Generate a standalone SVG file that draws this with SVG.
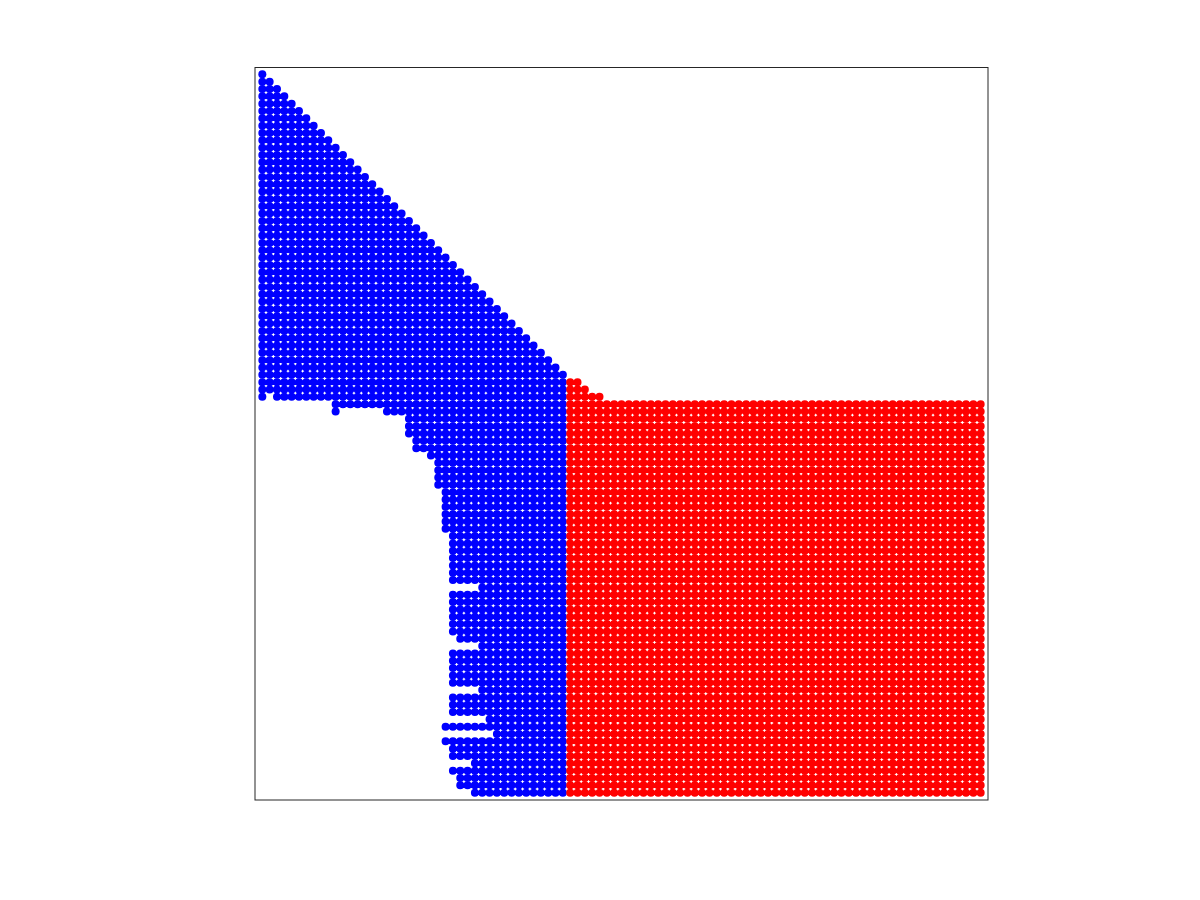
<svg xmlns="http://www.w3.org/2000/svg" width="1200" height="900" viewBox="0 0 1200 900">
<style>
.b{fill:none;stroke:#0000ff;stroke-width:8;stroke-linecap:round;stroke-dasharray:0 7.33}
.r{fill:none;stroke:#ff0000;stroke-width:8;stroke-linecap:round;stroke-dasharray:0 7.33}
.bc{fill:#0000ff}
</style>
<rect width="1200" height="900" fill="#ffffff"/>
<g id="blue-points">
<circle class="bc" cx="262.33" cy="74.33" r="4"/>
<g class="b">
<path d="M262.33 81.66H269.76"/>
<path d="M262.33 88.99H277.09"/>
<path d="M262.33 96.32H284.42"/>
<path d="M262.33 103.65H291.75"/>
<path d="M262.33 110.98H299.08"/>
<path d="M262.33 118.31H306.41"/>
<path d="M262.33 125.64H313.74"/>
<path d="M262.33 132.97H321.07"/>
<path d="M262.33 140.3H328.4"/>
<path d="M262.33 147.63H335.73"/>
<path d="M262.33 154.96H343.06"/>
<path d="M262.33 162.29H350.39"/>
<path d="M262.33 169.62H357.72"/>
<path d="M262.33 176.95H365.05"/>
<path d="M262.33 184.28H372.38"/>
<path d="M262.33 191.61H379.71"/>
<path d="M262.33 198.94H387.04"/>
<path d="M262.33 206.27H394.37"/>
<path d="M262.33 213.6H401.7"/>
<path d="M262.33 220.93H409.03"/>
<path d="M262.33 228.26H416.36"/>
<path d="M262.33 235.59H423.69"/>
<path d="M262.33 242.92H431.02"/>
<path d="M262.33 250.25H438.35"/>
<path d="M262.33 257.58H445.68"/>
<path d="M262.33 264.91H453.01"/>
<path d="M262.33 272.24H460.34"/>
<path d="M262.33 279.57H467.67"/>
<path d="M262.33 286.9H475"/>
<path d="M262.33 294.23H482.33"/>
<path d="M262.33 301.56H489.66"/>
<path d="M262.33 308.89H496.99"/>
<path d="M262.33 316.22H504.32"/>
<path d="M262.33 323.55H511.65"/>
<path d="M262.33 330.88H518.98"/>
<path d="M262.33 338.21H526.31"/>
<path d="M262.33 345.54H533.64"/>
<path d="M262.33 352.87H540.97"/>
<path d="M262.33 360.2H548.3"/>
<path d="M262.33 367.53H555.63"/>
<path d="M262.33 374.86H562.96"/>
<path d="M262.33 382.19H562.96"/>
<path d="M262.33 389.52H562.96"/>
<path d="M276.99 396.85H562.96"/>
<path d="M335.63 404.18H562.96"/>
<path d="M386.94 411.51H562.96"/>
<path d="M408.93 418.84H562.96"/>
<path d="M408.93 426.17H562.96"/>
<path d="M408.93 433.5H562.96"/>
<path d="M416.26 440.83H562.96"/>
<path d="M416.26 448.16H562.96"/>
<path d="M430.92 455.49H562.96"/>
<path d="M438.25 462.82H562.96"/>
<path d="M438.25 470.15H562.96"/>
<path d="M438.25 477.48H562.96"/>
<path d="M438.25 484.81H562.96"/>
<path d="M445.58 492.14H562.96"/>
<path d="M445.58 499.47H562.96"/>
<path d="M445.58 506.8H562.96"/>
<path d="M445.58 514.13H562.96"/>
<path d="M445.58 521.46H562.96"/>
<path d="M445.58 528.79H562.96"/>
<path d="M452.91 536.12H562.96"/>
<path d="M452.91 543.45H562.96"/>
<path d="M452.91 550.78H562.96"/>
<path d="M452.91 558.11H562.96"/>
<path d="M452.91 565.44H562.96"/>
<path d="M452.91 572.77H562.96"/>
<path d="M452.91 580.1H562.96"/>
<path d="M482.23 587.43H562.96"/>
<path d="M452.91 594.76H562.96"/>
<path d="M452.91 602.09H562.96"/>
<path d="M452.91 609.42H562.96"/>
<path d="M452.91 616.75H562.96"/>
<path d="M452.91 624.08H562.96"/>
<path d="M452.91 631.41H562.96"/>
<path d="M460.24 638.74H562.96"/>
<path d="M482.23 646.07H562.96"/>
<path d="M452.91 653.4H562.96"/>
<path d="M452.91 660.73H562.96"/>
<path d="M452.91 668.06H562.96"/>
<path d="M452.91 675.39H562.96"/>
<path d="M452.91 682.72H562.96"/>
<path d="M482.23 690.05H562.96"/>
<path d="M452.91 697.38H562.96"/>
<path d="M452.91 704.71H562.96"/>
<path d="M452.91 712.04H562.96"/>
<path d="M489.56 719.37H562.96"/>
<path d="M445.58 726.7H562.96"/>
<path d="M496.89 734.03H562.96"/>
<path d="M445.58 741.36H562.96"/>
<path d="M452.91 748.69H562.96"/>
<path d="M452.91 756.02H562.96"/>
<path d="M474.9 763.35H562.96"/>
<path d="M452.91 770.68H562.96"/>
<path d="M460.24 778.01H562.96"/>
<path d="M460.24 785.34H562.96"/>
<path d="M474.9 792.67H562.96"/>
</g>
<circle class="bc" cx="262.33" cy="396.85" r="4"/>
<circle class="bc" cx="335.63" cy="411.51" r="4"/>
</g>
<g id="red-points" class="r">
<path d="M570.19 382.19H577.62"/>
<path d="M570.19 389.52H584.95"/>
<path d="M570.19 396.85H599.61"/>
<path d="M570.19 404.18H980.77"/>
<path d="M570.19 411.51H980.77"/>
<path d="M570.19 418.84H980.77"/>
<path d="M570.19 426.17H980.77"/>
<path d="M570.19 433.5H980.77"/>
<path d="M570.19 440.83H980.77"/>
<path d="M570.19 448.16H980.77"/>
<path d="M570.19 455.49H980.77"/>
<path d="M570.19 462.82H980.77"/>
<path d="M570.19 470.15H980.77"/>
<path d="M570.19 477.48H980.77"/>
<path d="M570.19 484.81H980.77"/>
<path d="M570.19 492.14H980.77"/>
<path d="M570.19 499.47H980.77"/>
<path d="M570.19 506.8H980.77"/>
<path d="M570.19 514.13H980.77"/>
<path d="M570.19 521.46H980.77"/>
<path d="M570.19 528.79H980.77"/>
<path d="M570.19 536.12H980.77"/>
<path d="M570.19 543.45H980.77"/>
<path d="M570.19 550.78H980.77"/>
<path d="M570.19 558.11H980.77"/>
<path d="M570.19 565.44H980.77"/>
<path d="M570.19 572.77H980.77"/>
<path d="M570.19 580.1H980.77"/>
<path d="M570.19 587.43H980.77"/>
<path d="M570.19 594.76H980.77"/>
<path d="M570.19 602.09H980.77"/>
<path d="M570.19 609.42H980.77"/>
<path d="M570.19 616.75H980.77"/>
<path d="M570.19 624.08H980.77"/>
<path d="M570.19 631.41H980.77"/>
<path d="M570.19 638.74H980.77"/>
<path d="M570.19 646.07H980.77"/>
<path d="M570.19 653.4H980.77"/>
<path d="M570.19 660.73H980.77"/>
<path d="M570.19 668.06H980.77"/>
<path d="M570.19 675.39H980.77"/>
<path d="M570.19 682.72H980.77"/>
<path d="M570.19 690.05H980.77"/>
<path d="M570.19 697.38H980.77"/>
<path d="M570.19 704.71H980.77"/>
<path d="M570.19 712.04H980.77"/>
<path d="M570.19 719.37H980.77"/>
<path d="M570.19 726.7H980.77"/>
<path d="M570.19 734.03H980.77"/>
<path d="M570.19 741.36H980.77"/>
<path d="M570.19 748.69H980.77"/>
<path d="M570.19 756.02H980.77"/>
<path d="M570.19 763.35H980.77"/>
<path d="M570.19 770.68H980.77"/>
<path d="M570.19 778.01H980.77"/>
<path d="M570.19 785.34H980.77"/>
<path d="M570.19 792.67H980.77"/>
</g>
<rect id="axes-frame" x="255" y="67.5" width="733" height="732.5" fill="none" stroke="#262626" stroke-width="1"/>
</svg>
